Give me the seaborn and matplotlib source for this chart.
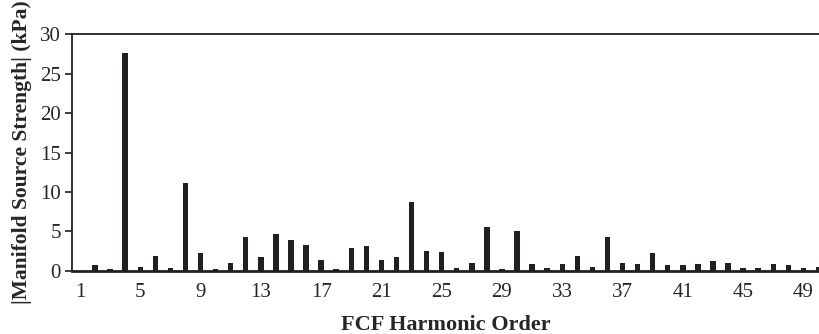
import matplotlib
matplotlib.use("Agg")
import matplotlib.pyplot as plt
import seaborn as sns
import pandas as pd

orders = list(range(2, 51))
strength = [0.7, 0.2, 27.7, 0.5, 1.9, 0.4, 11.1, 2.2, 0.2, 1.0,
            4.3, 1.7, 4.6, 3.9, 3.3, 1.4, 0.2, 2.9, 3.1, 1.4,
            1.7, 8.7, 2.55, 2.4, 0.4, 1.0, 5.6, 0.2, 5.0, 0.85,
            0.4, 0.85, 1.9, 0.5, 4.3, 1.0, 0.85, 2.2, 0.7, 0.7,
            0.85, 1.2, 1.0, 0.4, 0.4, 0.85, 0.7, 0.4, 0.5]
xticks = list(range(1, 50, 4))
yticks = [0, 5, 10, 15, 20, 25, 30]

df = pd.DataFrame({"order": orders, "strength": strength})

sns.set_style("white")
plt.rcParams['font.family'] = ['Liberation Serif', 'DejaVu Serif']

fig = plt.figure(figsize=(8.2, 3.34), dpi=100)
ax = fig.add_axes([0.0878, 0.1895, 0.9122, 0.7075])

sns.barplot(data=df, x="order", y="strength", native_scale=True,
            color="#231f20", width=0.36, saturation=1, linewidth=0, ax=ax)

ax.set_xlim(0.47, 50.1)
ax.set_ylim(0, 30)
ax.set_xticks(xticks)
ax.set_xticklabels([str(t) for t in xticks], fontsize=15)
ax.set_yticks(yticks)
ax.set_yticklabels([str(t) for t in yticks], fontsize=15)
ax.tick_params(axis='y', direction='out', length=5, width=1.2, color='#231f20', pad=3, left=True)
ax.tick_params(axis='x', length=0, pad=9)

for s in ['left', 'top']:
    ax.spines[s].set_linewidth(1.3)
    ax.spines[s].set_color('#231f20')
ax.spines['bottom'].set_linewidth(2)
ax.spines['bottom'].set_color('#231f20')
ax.spines['right'].set_visible(False)

ax.set_xlabel("FCF Harmonic Order", fontsize=16, fontweight='bold', labelpad=9)
ax.set_ylabel("|Manifold Source Strength| (kPa)", fontsize=15.5, fontweight='bold', labelpad=6)

fig.savefig("out.png", dpi=100)
